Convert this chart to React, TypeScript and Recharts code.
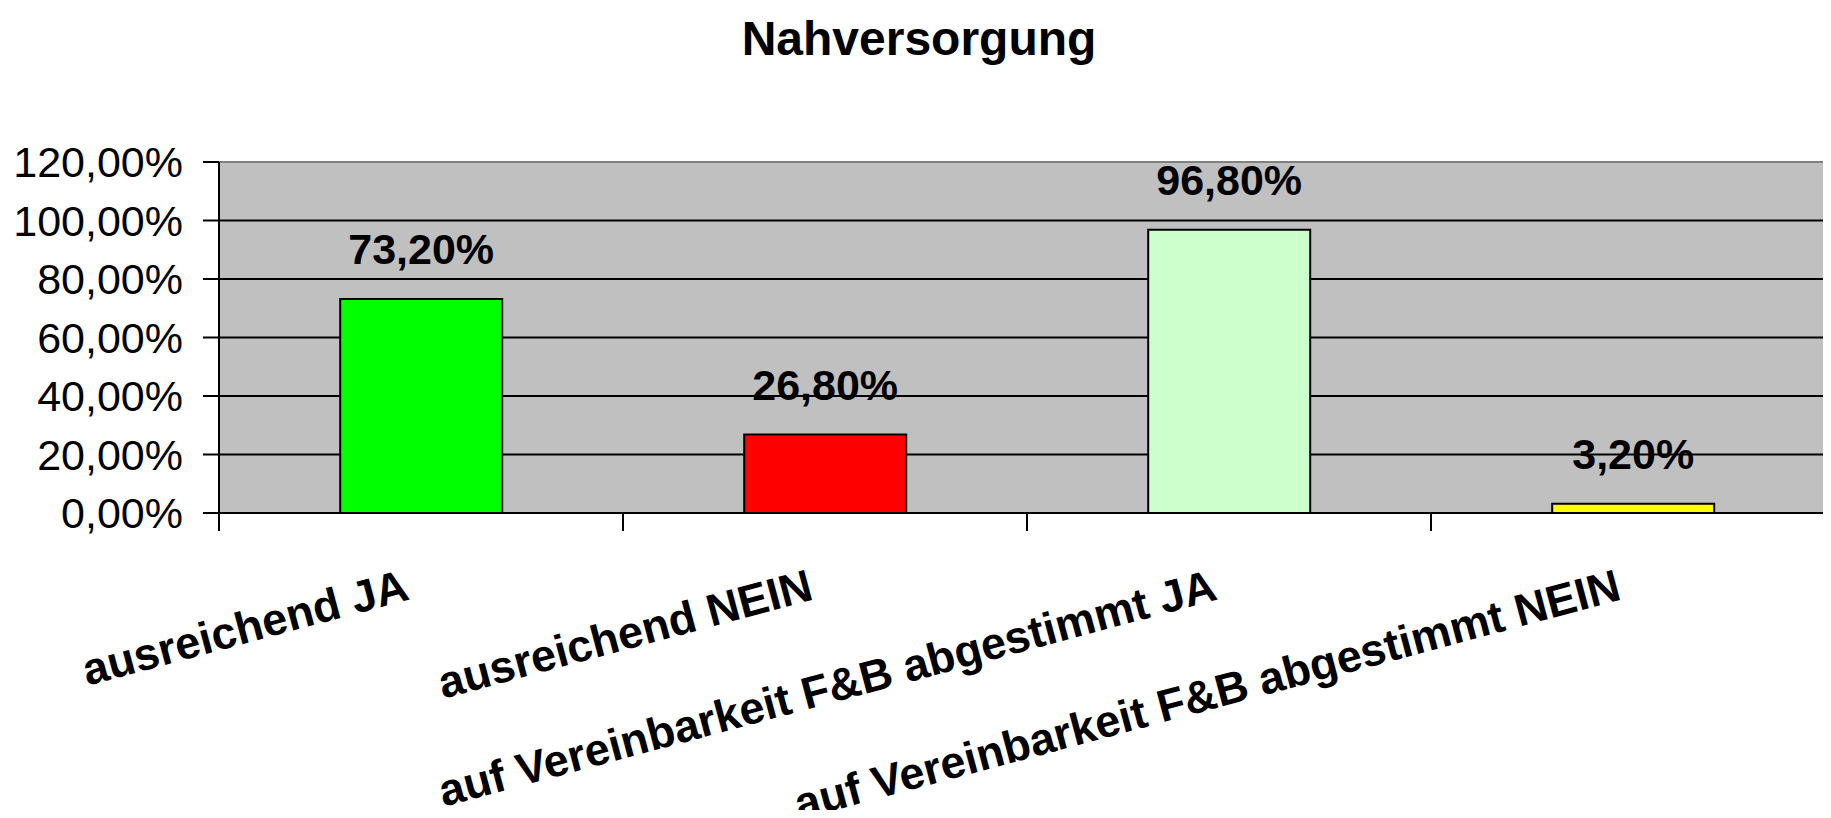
import React from 'react';
import { BarChart, Bar, XAxis, YAxis, CartesianGrid, Cell, LabelList, ReferenceLine } from 'recharts';

const categories = [
  'ausreichend JA',
  'ausreichend NEIN',
  'auf Vereinbarkeit F&B abgestimmt JA',
  'auf Vereinbarkeit F&B abgestimmt NEIN',
];
const values = [73.2, 26.8, 96.8, 3.2];
const barColors = ['#00FF00', '#FF0000', '#CCFFCC', '#FFFF00'];
const yTicks = [0, 20, 40, 60, 80, 100, 120];

const FONT = '"Liberation Sans", Arial, sans-serif';
const CHART_W = 1840;
const CHART_H = 818;
const Y_AXIS_W = 219;
const PLOT_W = CHART_W - Y_AXIS_W - 5;
const HALF_BAND = PLOT_W / categories.length / 2;

const data = categories.map((name, i) => ({ name, value: values[i] }));

const pct = (v: number) => v.toFixed(2).replace('.', ',') + '%';

const YTick = (props: any) => {
  const { x, y, payload } = props;
  return (
    <text x={x - 18} y={y + 15} textAnchor="end" fontFamily={FONT} fontSize={43} fill="#000">
      {pct(payload.value)}
    </text>
  );
};

const XTick = (props: any) => {
  const { x, y, payload } = props;
  const bx = x - HALF_BAND;
  return (
    <g>
      <line x1={bx} y1={y} x2={bx} y2={y + 18} stroke="#000" strokeWidth={2} />
      <text
        transform={`translate(${x - 10}, ${y + 86}) rotate(-15)`}
        textAnchor="end"
        fontFamily={FONT}
        fontSize={45}
        fontWeight="bold"
        fill="#000"
      >
        {payload.value}
      </text>
    </g>
  );
};

export default function App() {
  return (
    <div
      style={{
        position: 'relative',
        width: 1831,
        height: 818,
        margin: -8,
        overflow: 'hidden',
        background: '#fff',
      }}
    >
      <div
        style={{
          position: 'absolute',
          left: 619,
          top: 15,
          width: 600,
          textAlign: 'center',
          fontFamily: FONT,
          fontWeight: 'bold',
          fontSize: 48,
          lineHeight: '48px',
          color: '#000',
        }}
      >
        Nahversorgung
      </div>
      <BarChart
        width={CHART_W}
        height={CHART_H}
        data={data}
        margin={{ top: 162, right: 5, bottom: 0, left: 0 }}
        barCategoryGap="30%"
      >
        <CartesianGrid fill="#C0C0C0" vertical={false} stroke="#000" strokeWidth={2} />
        <XAxis
          dataKey="name"
          height={305}
          interval={0}
          tickLine={false}
          tickSize={0}
          tickMargin={0}
          axisLine={{ stroke: '#000', strokeWidth: 2 }}
          tick={<XTick />}
        />
        <YAxis
          width={Y_AXIS_W}
          domain={[0, 120]}
          ticks={yTicks}
          interval={0}
          tickSize={16}
          tickLine={{ stroke: '#000', strokeWidth: 2 }}
          axisLine={{ stroke: '#000', strokeWidth: 2 }}
          tick={<YTick />}
        />
        <ReferenceLine y={120} stroke="#808080" strokeWidth={2} />
        <Bar dataKey="value" stroke="#000" strokeWidth={2} isAnimationActive={false}>
          {data.map((d, i) => (
            <Cell key={d.name} fill={barColors[i]} />
          ))}
          <LabelList
            dataKey="value"
            position="top"
            offset={35}
            formatter={(v: any) => pct(Number(v))}
            fill="#000"
            fontFamily={FONT}
            fontSize={43}
            fontWeight="bold"
          />
        </Bar>
      </BarChart>
    </div>
  );
}
